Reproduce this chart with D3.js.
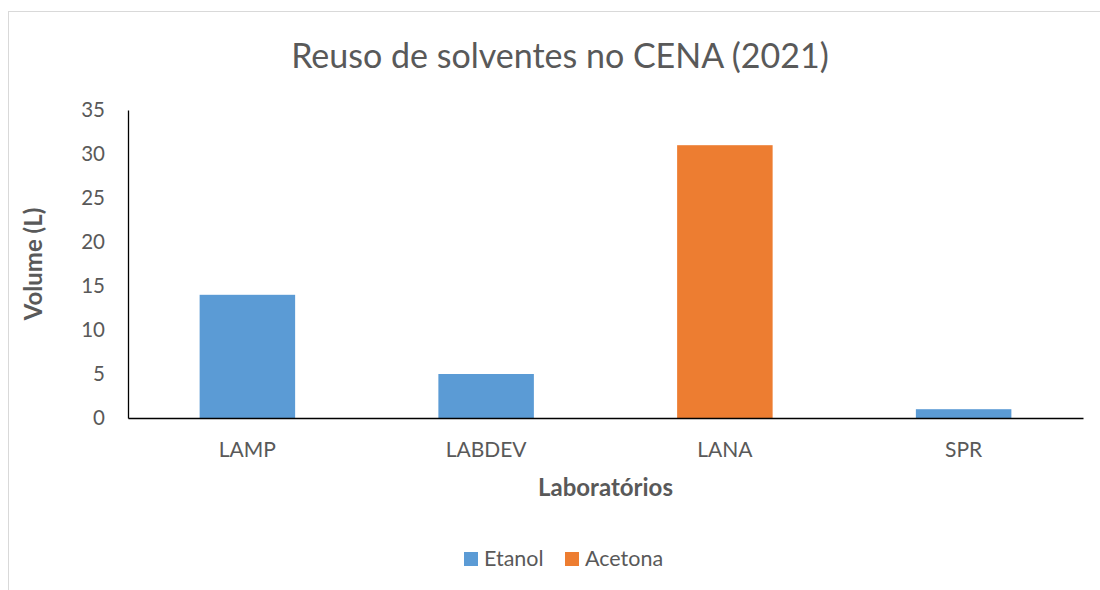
<!DOCTYPE html>
<html lang="pt">
  <head>
    <meta charset="UTF-8" />
    <title>Reuso de solventes no CENA (2021)</title>
    <script src="https://d3js.org/d3.v7.min.js"></script>
    <style>
      body { margin: 0; background: #fff; }
      text { font-family: Lato, "Noto Sans", sans-serif; }
    </style>
  </head>
  <body>
    <script>
      // dados
      const categories = ["LAMP", "LABDEV", "LANA", "SPR"];
      const volumes = [14, 5, 31, 1];
      const solvents = ["Etanol", "Etanol", "Acetona", "Etanol"];
      const seriesNames = ["Etanol", "Acetona"];
      const seriesColors = ["#5B9BD5", "#ED7D31"];
      const yTicks = [0, 5, 10, 15, 20, 25, 30, 35];

      const width = 1100;
      const height = 590;
      const margin = { top: 110, right: 17, bottom: 172, left: 128 };
      const textColor = "#595959";

      const svg = d3
        .select("body")
        .append("svg")
        .attr("width", width)
        .attr("height", height);

      // moldura do gráfico (corta à direita e embaixo)
      svg.append("rect")
        .attr("x", 8.5)
        .attr("y", 11.5)
        .attr("width", 1200)
        .attr("height", 700)
        .attr("fill", "none")
        .attr("stroke", "#d9d9d9");

      const x = d3.scaleBand()
        .domain(categories)
        .range([margin.left, width - margin.right])
        .paddingInner(0.6)
        .paddingOuter(0.3);

      const y = d3.scaleLinear()
        .domain([0, 35])
        .range([height - margin.bottom, margin.top]);

      const color = d3.scaleOrdinal().domain(seriesNames).range(seriesColors);

      const data = categories.map((c, i) => ({ cat: c, v: volumes[i], s: solvents[i] }));

      svg.append("g")
        .selectAll("rect")
        .data(data)
        .join("rect")
        .attr("x", d => x(d.cat))
        .attr("y", d => y(d.v))
        .attr("width", x.bandwidth())
        .attr("height", d => y(0) - y(d.v))
        .attr("fill", d => color(d.s));

      // eixo Y
      const yAxis = svg.append("g")
        .attr("transform", `translate(${margin.left},0)`)
        .call(d3.axisLeft(y).tickValues(yTicks).tickSize(0).tickPadding(23));
      yAxis.select(".domain").attr("stroke", "#000").attr("stroke-width", 1.3);
      yAxis.selectAll("text")
        .attr("fill", textColor)
        .style("font-size", "20.5px");

      // eixo X
      const xAxis = svg.append("g")
        .attr("transform", `translate(0,${y(0)})`)
        .call(d3.axisBottom(x).tickSize(0).tickPadding(24).tickSizeOuter(0));
      xAxis.select(".domain").attr("stroke", "#000").attr("stroke-width", 1.3);
      xAxis.selectAll("text")
        .attr("fill", textColor)
        .style("font-size", "21px");

      // título
      svg.append("text")
        .attr("x", 560)
        .attr("y", 68)
        .attr("text-anchor", "middle")
        .attr("fill", textColor)
        .style("font-size", "34px")
        .text("Reuso de solventes no CENA (2021)");

      // títulos dos eixos
      svg.append("text")
        .attr("x", (margin.left + width - margin.right) / 2)
        .attr("y", 496)
        .attr("text-anchor", "middle")
        .attr("fill", textColor)
        .style("font-size", "24px")
        .style("font-weight", "bold")
        .text("Laboratórios");

      svg.append("text")
        .attr("transform", `translate(34,${(y(0) + y(35)) / 2}) rotate(-90)`)
        .attr("text-anchor", "middle")
        .attr("dy", "0.35em")
        .attr("fill", textColor)
        .style("font-size", "24px")
        .style("font-weight", "bold")
        .text("Volume (L)");

      // legenda
      const legendX = [464, 565];
      const legend = svg.append("g")
        .selectAll("g")
        .data(seriesNames)
        .join("g")
        .attr("transform", (d, i) => `translate(${legendX[i]},552)`);
      legend.append("rect")
        .attr("width", 14)
        .attr("height", 14)
        .attr("fill", d => color(d));
      legend.append("text")
        .attr("x", 20)
        .attr("y", 14)
        .attr("fill", textColor)
        .style("font-size", "21.5px")
        .text(d => d);
    </script>
  </body>
</html>
